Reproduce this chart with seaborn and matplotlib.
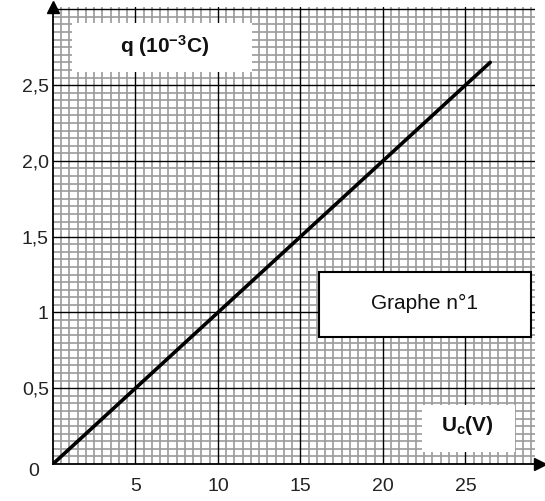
import numpy as np
import pandas as pd
import matplotlib
matplotlib.use('Agg')
import matplotlib.pyplot as plt
import matplotlib.patches as mpatches
import seaborn as sns

# values
u_vals = [0.0, 26.5]          # Uc (V)
q_vals = [0.0, 2.65]          # q (10^-3 C)
x_ticks = [5, 10, 15, 20, 25]
x_labels = ['5', '10', '15', '20', '25']
y_ticks = [0, 0.5, 1.0, 1.5, 2.0, 2.5]
y_labels = ['0', '0,5', '1', '1,5', '2,0', '2,5']

sns.set_style('white')
plt.rcParams['font.family'] = ['Liberation Sans', 'DejaVu Sans']
plt.rcParams['mathtext.default'] = 'regular'

fig = plt.figure(figsize=(5.45, 5.01), dpi=100)
ax = fig.add_axes([0.0972, 0.0739, 0.884, 0.912])

df = pd.DataFrame({'U': u_vals, 'q': q_vals})

ax.set_xlim(0, 29.2)
ax.set_ylim(0, 3.015)

# graph paper grid
for x in np.arange(0.5, 29.2, 0.5):
    major = abs(x / 5 - round(x / 5)) < 1e-6
    ax.axvline(x, color='black' if major else '#9a9a9a',
               lw=1.0 if major else 1.2, zorder=1 if major else 0)
for y in np.arange(0.05, 3.02, 0.05):
    major = abs(y / 0.5 - round(y / 0.5)) < 1e-6
    ax.axhline(y, color='black' if major else '#9a9a9a',
               lw=1.0 if major else 1.2, zorder=1 if major else 0)

sns.lineplot(data=df, x='U', y='q', color='black', lw=2.6, ax=ax, zorder=3)

ax.set_xticks(x_ticks)
ax.set_xticklabels(x_labels)
ax.set_yticks(y_ticks)
ax.set_yticklabels(y_labels)
ax.tick_params(length=0, labelsize=14, colors='#222222')
ax.tick_params(axis='x', pad=10)
ax.tick_params(axis='y', pad=3)
ax.set_xlabel('')
ax.set_ylabel('')
# the "0" sits a bit lower-left of the origin
zero_lbl = ax.get_yticklabels()[0]
zero_lbl.set_transform(zero_lbl.get_transform() + matplotlib.transforms.ScaledTranslation(-0.1, -0.06, fig.dpi_scale_trans))

for s in ['top', 'right']:
    ax.spines[s].set_visible(False)
for s in ['left', 'bottom']:
    ax.spines[s].set_color('black')
    ax.spines[s].set_linewidth(1.3)
    ax.spines[s].set_zorder(4)

# arrows on axes
ax.plot(0, 1.0, marker='^', color='black', ms=8, transform=ax.transAxes, clip_on=False, zorder=5)
ax.plot(1.01, 0, marker='>', color='black', ms=8, transform=ax.transAxes, clip_on=False, zorder=5)

# label boxes
ax.add_patch(mpatches.Rectangle((0.039, 0.858), 0.374, 0.107, transform=ax.transAxes,
                                facecolor='white', edgecolor='none', zorder=4))
ax.text(0.232, 0.915, r'q (10$^{-3}$C)', transform=ax.transAxes, ha='center', va='center',
        fontsize=15, fontweight='bold', color='#111111', zorder=5)

ax.add_patch(mpatches.Rectangle((0.552, 0.278), 0.44, 0.142, transform=ax.transAxes,
                                facecolor='white', edgecolor='black', lw=1.5, zorder=4))
ax.text(0.772, 0.352, 'Graphe n°1', transform=ax.transAxes, ha='center', va='center',
        fontsize=15, color='#111111', zorder=5)

ax.add_patch(mpatches.Rectangle((0.766, 0.026), 0.192, 0.103, transform=ax.transAxes,
                                facecolor='white', edgecolor='none', zorder=4))
ax.text(0.861, 0.085, r'U$_{c}$(V)', transform=ax.transAxes, ha='center', va='center',
        fontsize=15, fontweight='bold', color='#111111', zorder=5)

fig.savefig('out.png', dpi=100)
